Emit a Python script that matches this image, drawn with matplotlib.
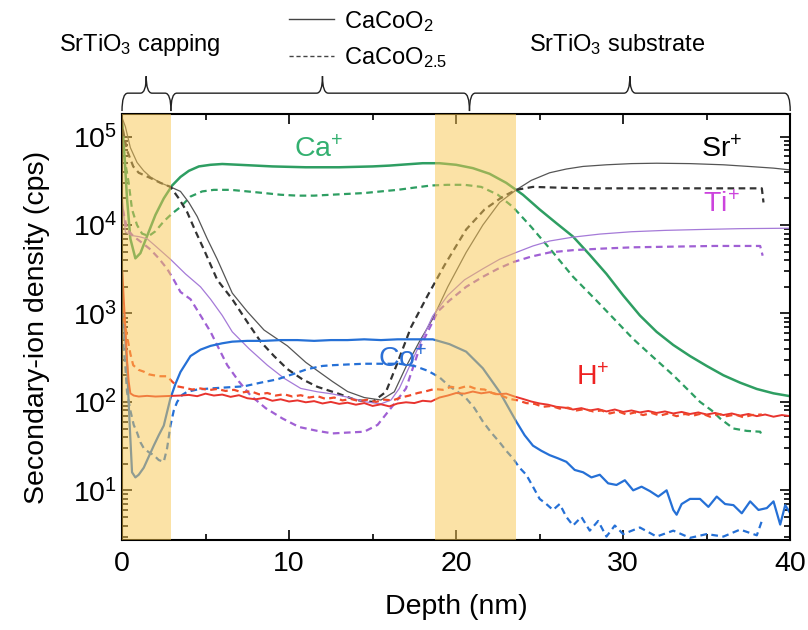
import numpy as np
import matplotlib
matplotlib.use('Agg')
import matplotlib.pyplot as plt
from matplotlib.path import Path
from matplotlib.patches import PathPatch
from matplotlib.lines import Line2D
from matplotlib.transforms import blended_transform_factory

plt.rcParams['font.family'] = ['Liberation Sans', 'DejaVu Sans']
plt.rcParams['mathtext.fontset'] = 'custom'
plt.rcParams['mathtext.rm'] = 'Liberation Sans'
plt.rcParams['mathtext.it'] = 'Liberation Sans'
plt.rcParams['mathtext.default'] = 'regular'

# ---- data ----
ca_solid_d = [0.02, 0.15, 0.3, 0.5, 0.8, 1.1, 1.5, 2.0, 2.5, 3.0, 3.5, 4.0, 4.6, 5.3, 6.0, 7, 8, 9, 10, 11,
              12, 13, 14, 15, 16, 17, 18, 19, 20, 21, 22, 23, 24, 25, 26, 27, 28, 29, 30, 31,
              32, 33, 34, 35, 36, 37, 38, 39, 40]
ca_solid_v = [1.4e5, 6e4, 2e4, 7e3, 4.2e3, 4.8e3, 7.5e3, 1.3e4, 2e4, 2.8e4, 3.5e4, 4.1e4, 4.6e4, 4.8e4, 4.9e4,
              4.8e4, 4.7e4, 4.6e4, 4.55e4, 4.5e4, 4.5e4, 4.5e4, 4.55e4, 4.6e4, 4.7e4, 4.85e4, 5e4, 5e4, 4.8e4,
              4.4e4, 3.8e4, 3e4, 2.2e4, 1.5e4, 1.05e4, 7.4e3, 4.6e3, 2.8e3, 1.6e3, 950, 620, 440, 330, 255,
              200, 165, 140, 125, 116]

ca_dash_d = [0.05, 0.2, 0.4, 0.6, 0.9, 1.2, 1.6, 2.0, 2.5, 3.0, 3.5, 4.1, 4.8, 5.5, 6.5, 7.5, 8.5, 9.5, 10.5,
             11.5, 12.5, 13.5, 14.5, 15.5, 16.5, 17.5, 18.5, 19.5, 20.5, 21.5, 22.5, 23.4, 24.5, 25.8, 27,
             28.4, 29.5, 30.6, 31.8, 33, 34, 34.6, 35.3, 35.8, 36.6, 37.4, 38.2, 38.35]
ca_dash_v = [8e4, 5e4, 3e4, 1.5e4, 1.0e4, 8e3, 7.5e3, 8.5e3, 1.1e4, 1.35e4, 1.6e4, 2.1e4, 2.4e4, 2.5e4, 2.5e4,
             2.4e4, 2.3e4, 2.2e4, 2.15e4, 2.15e4, 2.2e4, 2.25e4, 2.3e4, 2.4e4, 2.5e4, 2.65e4, 2.8e4, 2.85e4,
             2.85e4, 2.7e4, 2.2e4, 1.6e4, 9.5e3, 4.9e3, 2.6e3, 1.4e3, 850, 515, 320, 200, 130, 100, 80, 65,
             50, 47, 46, 40]

sr_solid_d = [0.02, 0.2, 0.5, 0.9, 1.3, 1.7, 2.3, 2.9, 3.5, 4.0, 4.5, 5.1, 5.7, 6.6, 7.5, 8.5, 9.9, 11, 12.6,
              13.5, 14.5, 15.5, 16.3, 17, 17.8, 18.6, 19.5, 20.6, 21.6, 22.6, 23.6, 24.5, 25.6, 26.6, 27.6,
              29, 30.5, 32, 34, 36, 37.5, 39, 40]
sr_solid_v = [1.6e5, 1.3e5, 7.5e4, 5.1e4, 4.1e4, 3.5e4, 3.0e4, 2.7e4, 2.4e4, 1.8e4, 1.25e4, 7e3, 4.1e3, 1.7e3,
              1.05e3, 650, 430, 280, 170, 131, 112, 105, 130, 250, 480, 870, 2e3, 4.9e3, 1e4, 1.8e4, 2.5e4,
              3.2e4, 3.9e4, 4.3e4, 4.6e4, 4.8e4, 4.95e4, 5e4, 4.95e4, 4.8e4, 4.6e4, 4.4e4, 4.2e4]

sr_dash_d = [0.05, 0.3, 0.67, 1.0, 1.7, 2.3, 2.9, 3.4, 3.9, 4.4, 4.9, 5.7, 6.6, 7.5, 8.3, 9.1, 9.9, 10.8, 11.7,
             13, 14, 15, 15.8, 16.5, 17.3, 18.3, 19.3, 20.6, 21.7, 22.8, 23.6, 24.6, 26, 28, 30, 32, 34, 36,
             38, 38.3, 38.4]
sr_dash_v = [1.2e5, 7e4, 4.6e4, 3.9e4, 3.4e4, 3e4, 2.7e4, 2e4, 1.4e4, 8.5e3, 5.3e3, 2.4e3, 1.45e3, 800, 480,
             330, 235, 180, 148, 123, 105, 100, 130, 280, 700, 1.6e3, 3.5e3, 8.9e3, 1.5e4, 2.1e4, 2.5e4,
             2.7e4, 2.65e4, 2.6e4, 2.6e4, 2.6e4, 2.6e4, 2.6e4, 2.6e4, 2.6e4, 1.8e4]

ti_solid_d = [0.02, 0.2, 0.6, 1.0, 1.5, 2.0, 2.9, 3.8, 4.7, 5.3, 6.0, 6.6, 7.6, 8.7, 9.7, 10.7, 11.7, 12.6,
              13.6, 14.6, 15.5, 16.1, 16.6, 17.2, 17.7, 18.6, 19.5, 20.5, 21.6, 22.6, 23.6, 24.6, 25.6, 27,
              28.6, 30.5, 32.5, 34.6, 37, 39.8, 40]
ti_solid_v = [2e4, 8.3e3, 7.6e3, 7.4e3, 7e3, 5.8e3, 4.1e3, 2.8e3, 2e3, 1.45e3, 950, 620, 400, 260, 185, 142,
              130, 123, 112, 100, 95, 105, 142, 250, 400, 935, 1.6e3, 2.4e3, 3.2e3, 4.1e3, 4.9e3, 5.8e3,
              6.6e3, 7.3e3, 7.9e3, 8.4e3, 8.7e3, 8.9e3, 9.1e3, 9.2e3, 9.2e3]

ti_dash_d = [0.05, 0.3, 0.67, 1.2, 1.7, 2.2, 2.7, 3.1, 3.5, 4.1, 4.7, 5.3, 5.8, 6.3, 7.0, 7.7, 8.6, 9.6, 10.6,
             11.7, 12.6, 13.5, 14.5, 15.3, 16.2, 17, 17.8, 18.9, 19.6, 20.6, 21.6, 22.5, 23.4, 24.5, 25.6,
             27, 28.6, 30.6, 33, 35.5, 38.2, 38.35]
ti_dash_v = [1.5e4, 9e3, 7.5e3, 6.3e3, 5.3e3, 4.2e3, 3.2e3, 2.4e3, 1.75e3, 1.45e3, 950, 620, 400, 260, 170,
             118, 85, 65, 52, 47, 44, 45, 46, 55, 90, 142, 400, 1.05e3, 1.4e3, 2e3, 2.6e3, 3.2e3, 3.8e3,
             4.4e3, 4.9e3, 5.2e3, 5.4e3, 5.6e3, 5.7e3, 5.8e3, 5.8e3, 4.5e3]

co_solid_d = [0.02, 0.1, 0.2, 0.3, 0.45, 0.6, 0.8, 1.0, 1.3, 1.6, 1.9, 2.2, 2.5, 2.9, 3.2, 3.5, 4.1, 4.7, 5.3,
              6.0, 6.6, 7.5, 8.5, 9.5, 10.5, 11.5, 12.5, 13.5, 14.5, 15.5, 16.5, 17.5, 18.6, 19.6, 20.6,
              21.6, 22.6, 23.6, 24.1, 24.6, 25.1, 25.6, 26.1, 26.6, 27.1, 27.6, 28.1, 28.6, 29.1, 29.6,
              30.1, 30.6, 31.1, 31.6, 32.1, 32.6, 33.0, 33.2, 33.5, 34.0, 34.6, 35.1, 35.6, 36.1, 36.6,
              37.1, 37.6, 38.1, 38.6, 39.0, 39.4, 39.7, 40]
co_solid_v = [1e3, 800, 500, 260, 60, 16, 14, 15, 18, 24, 32, 42, 54, 110, 160, 218, 330, 390, 430, 460, 480,
              490, 490, 500, 500, 490, 500, 500, 510, 500, 510, 510, 510, 450, 370, 240, 130, 60, 42, 32, 28,
              25, 23, 21, 17, 16, 14, 15, 12, 11.5, 13, 10, 11, 9.8, 8.5, 10, 6, 5.3, 7, 8, 8, 6.5, 8.5, 7,
              6.8, 5.5, 7.5, 6, 6.3, 7.5, 4.1, 6.8, 5.5]

co_dash_d = [0.02, 0.1, 0.2, 0.3, 0.5, 0.7, 0.9, 1.1, 1.3, 1.6, 1.9, 2.2, 2.5, 2.7, 2.9, 3.1, 3.3, 3.6, 3.9,
             4.5, 5.3, 6.3, 7.3, 8.3, 9.3, 10.2, 11.1, 12, 12.6, 13.5, 14.5, 15.5, 16.6, 17.5, 18.3, 19,
             19.6, 20.1, 20.6, 21.1, 21.6, 22.1, 22.6, 23.0, 23.4, 23.8, 24.2, 24.6, 25, 25.4, 25.8, 26.2,
             26.6, 27, 27.5, 28, 28.5, 29, 29.5, 30, 31, 32, 33, 34, 35, 36, 37, 38, 38.3]
co_dash_v = [600, 400, 250, 130, 80, 55, 45, 35, 30, 27, 25, 22, 21, 30, 54, 80, 100, 120, 130, 138, 142, 146,
             150, 165, 180, 205, 235, 255, 260, 265, 270, 270, 270, 255, 225, 190, 150, 130, 110, 85, 60, 45,
             35, 28, 23, 18, 15, 11, 8, 7, 6, 7, 5, 4, 5, 3.5, 4.5, 3, 4, 3.2, 3.8, 3, 3.5, 2.9, 3.2, 3,
             3.6, 3.1, 4.5]

h_solid_d = [0.02, 0.1, 0.2, 0.3, 0.4, 0.5, 0.7, 1.0, 1.5, 2.0, 2.5, 3.0, 3.5] + list(np.arange(4.0, 40.01, 0.5))
h_solid_v = [3e3, 1.5e3, 700, 300, 170, 125, 118, 115, 117, 115, 116, 117, 118,
             120, 116, 124, 118, 121, 114, 119, 110, 107, 111, 103, 107, 101, 104, 99, 102, 96, 100, 95, 98,
             93, 97, 90, 94, 89, 96, 99, 97, 103, 101, 112, 118, 126, 124, 131, 125, 129, 122, 124, 115,
             108, 101, 96, 93, 88, 86, 82, 85, 80, 83, 78, 82, 77, 80, 76, 79, 75, 78, 74, 77, 73, 76, 72,
             75, 71, 74, 70, 73, 69, 72, 68, 71, 69]

h_dash_d = [0.02, 0.1, 0.2, 0.3, 0.5, 0.67, 1.0, 1.3, 1.6, 1.9, 2.3, 2.7, 3.0, 3.3] + list(np.arange(3.7, 38.2, 0.5)) + [38.3]
h_dash_v = [1.2e3, 900, 700, 560, 350, 260, 230, 220, 205, 200, 195, 195, 170, 150,
            145, 138, 142, 136, 140, 133, 137, 128, 132, 122, 126, 118, 122, 115, 119, 112, 116, 108, 112,
            104, 108, 102, 106, 100, 106, 104, 112, 118, 126, 132, 140, 137, 148, 143, 152, 140, 138, 125,
            118, 108, 104, 97, 95, 88, 90, 84, 86, 80, 83, 78, 80, 74, 78, 72, 76, 71, 75, 70, 74, 69, 73,
            70, 74, 68, 73, 69, 72, 67, 71, 72]

# layer regions (nm)
cap_end = 2.93
interface = (18.75, 23.6)
film_end = 20.8

c_ca, c_sr, c_ti, c_co, c_h = '#2e9e62', '#333333', '#a57ad8', '#2570d6', '#e8332e'
fs = 20.5

fig = plt.figure(figsize=(8.08, 6.3), dpi=100)
ax = fig.add_axes([0.151, 0.143, 0.827, 0.676])

dash = (3, 2)
ax.plot(ca_solid_d, ca_solid_v, color=c_ca, lw=1.8)
ax.plot(ca_dash_d, ca_dash_v, color=c_ca, lw=1.6, ls=(0, dash))
ax.plot(sr_solid_d, sr_solid_v, color='#555555', lw=0.9)
ax.plot(sr_dash_d, sr_dash_v, color=c_sr, lw=1.6, ls=(0, dash))
ax.plot(ti_solid_d, ti_solid_v, color=c_ti, lw=0.9)
ax.plot(ti_dash_d, ti_dash_v, color='#a060d4', lw=1.6, ls=(0, dash))
ax.plot(co_solid_d, co_solid_v, color=c_co, lw=1.6)
ax.plot(co_dash_d, co_dash_v, color=c_co, lw=1.6, ls=(0, dash))
ax.plot(h_solid_d, h_solid_v, color=c_h, lw=1.4)
ax.plot(h_dash_d, h_dash_v, color='#f04a2a', lw=1.6, ls=(0, dash))

ax.axvspan(0, cap_end, color='#f9c74f', alpha=0.5, lw=0, zorder=5)
ax.axvspan(interface[0], interface[1], color='#f9c74f', alpha=0.5, lw=0, zorder=5)

ax.set_yscale('log')
ax.set_xlim(0, 40)
ax.set_ylim(2.75, 1.8e5)
ax.set_xticks([0, 10, 20, 30, 40])
ax.set_xticks([5, 15, 25, 35], minor=True)
ax.tick_params(which='both', direction='in', top=True, right=True, labelsize=fs, width=1.2)
ax.tick_params(which='major', length=7)
ax.tick_params(which='minor', length=4)
ax.tick_params(axis='x', which='major', pad=8)
for s in ax.spines.values():
    s.set_linewidth(1.5)
ax.set_xlabel('Depth (nm)', fontsize=fs, labelpad=12)
ax.set_ylabel('Secondary-ion density (cps)', fontsize=fs, labelpad=16)

# ion labels
ax.text(11.8, 7.1e4, 'Ca$^{+}$', color='#33b070', fontsize=fs, ha='center', va='center')
ax.text(35.9, 7.1e4, 'Sr$^{+}$', color='black', fontsize=fs, ha='center', va='center')
ax.text(35.9, 1.7e4, 'Ti$^{+}$', color='#cc44dd', fontsize=fs, ha='center', va='center')
ax.text(16.8, 300, 'Co$^{+}$', color='#2b6fd6', fontsize=fs, ha='center', va='center')
ax.text(28.2, 190, 'H$^{+}$', color='#ee2222', fontsize=fs, ha='center', va='center')


# curly braces above the axes
def brace(x0, x1, xt, d=0.35, y_low=1.007, y_mid=1.049, y_tip=1.089):
    tr = blended_transform_factory(ax.transData, ax.transAxes)
    verts = [(x0, y_low), (x0, y_mid), (x0 + d, y_mid), (xt - d, y_mid), (xt, y_mid), (xt, y_tip),
             (xt, y_mid), (xt + d, y_mid), (x1 - d, y_mid), (x1, y_mid), (x1, y_low)]
    codes = [Path.MOVETO, Path.CURVE3, Path.CURVE3, Path.LINETO, Path.CURVE3, Path.CURVE3,
             Path.CURVE3, Path.CURVE3, Path.LINETO, Path.CURVE3, Path.CURVE3]
    ax.add_patch(PathPatch(Path(verts, codes), fc='none', ec='#222222', lw=1.0,
                           transform=tr, clip_on=False))


brace(0, cap_end, 1.45)
brace(cap_end, film_end, 12.0)
brace(film_end, 40, 30.4)

fig.text(0.173, 0.929, 'SrTiO$_3$ capping', ha='center', va='center', fontsize=17)
fig.text(0.764, 0.929, 'SrTiO$_3$ substrate', ha='center', va='center', fontsize=17)

handles = [Line2D([], [], color='#444444', lw=1.0),
           Line2D([], [], color='#444444', lw=1.0, ls=(0, (3, 2)))]
fig.legend(handles, ['CaCoO$_2$', 'CaCoO$_{2.5}$'], loc='upper left', bbox_to_anchor=(0.355, 0.99),
           frameon=False, fontsize=17, handlelength=1.9, handletextpad=0.4, labelspacing=0.5,
           borderpad=0.1, borderaxespad=0)

fig.savefig('out.png', dpi=100)
